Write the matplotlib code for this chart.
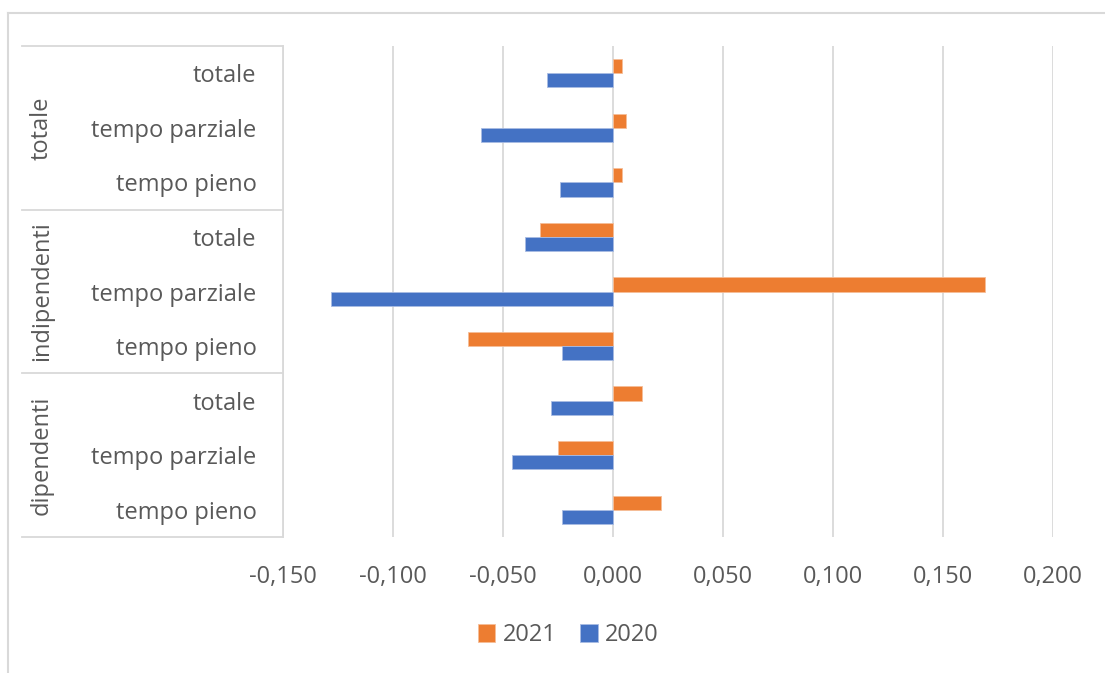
import numpy as np
import matplotlib
matplotlib.use("Agg")
import matplotlib.pyplot as plt
from matplotlib.lines import Line2D
import matplotlib.transforms as mtransforms

# categories from bottom to top
gruppi = ["dipendenti", "indipendenti", "totale"]
sottocat = ["tempo pieno", "tempo parziale", "totale"]
v2021 = [0.022, -0.025, 0.013,   -0.066, 0.169, -0.033,   0.004, 0.006, 0.004]
v2020 = [-0.023, -0.046, -0.028, -0.023, -0.128, -0.040,  -0.024, -0.060, -0.030]
xticks = [-0.150, -0.100, -0.050, 0.000, 0.050, 0.100, 0.150, 0.200]

c21 = "#ED7D31"
c20 = "#4472C4"
grey = "#595959"
linec = "#D9D9D9"

plt.rcParams["font.family"] = ["Open Sans", "DejaVu Sans"]
fs = 17

W, H = 1105, 673
fig = plt.figure(figsize=(W / 100, H / 100), dpi=100)
ax = fig.add_axes([283 / W, 1 - 537 / H, (1053 - 283) / W, (537 - 46) / H])

n = len(v2021)
y = np.arange(n)
h = 0.26
labels = sottocat * len(gruppi)
ax.barh(y + h / 2, v2021, height=h, color=c21, edgecolor="#F6BE98", linewidth=0.6, label="2021", zorder=3)
ax.barh(y - h / 2, v2020, height=h, color=c20, edgecolor="#A9BCE3", linewidth=0.6, label="2020", zorder=3)

ax.set_xlim(-0.15, 0.2)
ax.set_ylim(-0.5, n - 0.5)
ax.set_xticks(xticks)
ax.set_xticklabels([f"{t:.3f}".replace(".", ",") for t in xticks], fontsize=fs, color=grey)
ax.set_yticks(y)
ax.set_yticklabels(labels, fontsize=fs, color=grey)
ax.tick_params(axis="y", length=0, pad=19)
ax.tick_params(axis="x", length=0, pad=20)
ax.grid(axis="x", color=linec, linewidth=1.3, zorder=0)
for s in ["top", "right", "bottom"]:
    ax.spines[s].set_visible(False)
ax.spines["left"].set_color(linec)
ax.spines["left"].set_linewidth(1.3)

# group separators and group labels
tr = mtransforms.blended_transform_factory(ax.transAxes, ax.transData)
x0 = (22 - 283) / (1053 - 283)
for k in range(len(gruppi) + 1):
    yy = k * 3 - 0.5
    ax.add_line(Line2D([x0, 0], [yy, yy], transform=tr, color=linec, lw=1.3, clip_on=False))
    if k < len(gruppi):
        ax.text((42 - 283) / (1053 - 283), k * 3 + 1, gruppi[k], transform=tr, rotation=90,
                ha="center", va="center", fontsize=fs, color=grey)

leg = ax.legend(loc="center", bbox_to_anchor=((568 - 283) / (1053 - 283), -0.2), ncol=2, frameon=False,
                fontsize=fs, handlelength=0.75, handleheight=0.75, handletextpad=0.3,
                columnspacing=1.0, labelcolor=grey)

# outer chart border
fig.add_artist(Line2D([8 / W, 8 / W], [0, 1 - 13 / H], transform=fig.transFigure, color=linec, lw=1.5))
fig.add_artist(Line2D([8 / W, 1], [1 - 13 / H, 1 - 13 / H], transform=fig.transFigure, color=linec, lw=1.5))

fig.savefig("out.png", dpi=100)
